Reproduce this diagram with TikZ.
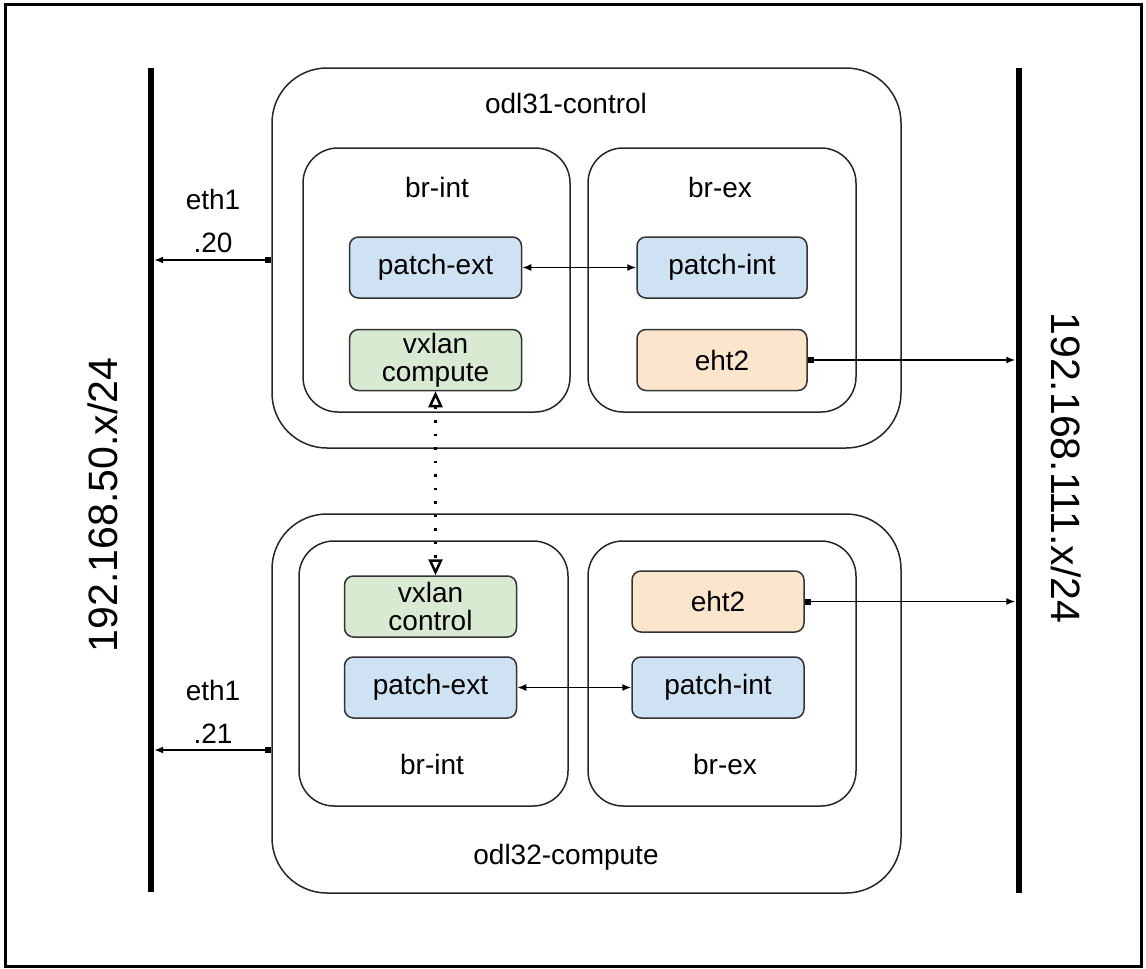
\documentclass[tikz,border=0pt]{standalone}
\usepackage{fontspec}
\setmainfont{Liberation Sans}
\usetikzlibrary{arrows.meta}

\definecolor{portblue}{HTML}{CFE2F3}
\definecolor{portgreen}{HTML}{D9EAD3}
\definecolor{portorange}{HTML}{FCE5CD}

\begin{document}
\begin{tikzpicture}[x=1pt, y=-1pt,
  host/.style={draw=black!85, line width=1.5pt, rounded corners=55pt, minimum width=629pt, minimum height=380pt},
  bridge/.style={draw=black!85, line width=1.5pt, rounded corners=35pt, minimum width=267pt, minimum height=264pt},
  port/.style={draw=black!80, line width=1.5pt, rounded corners=9pt, minimum width=172pt, minimum height=61pt, inner sep=0pt, align=center, font=\fontsize{28}{28}\selectfont},
  bus/.style={fill=black, inner sep=0pt, minimum width=6pt},
  lbl/.style={font=\fontsize{28}{43}\selectfont, align=center},
  buslbl/.style={font=\fontsize{41}{45}\selectfont},
  link/.style={line width=1.5pt, {Square[length=6pt,width=6pt]}-{Latex[length=9pt,width=7pt]}},
  patch/.style={line width=1.5pt, {Latex[length=9pt,width=7pt]}-{Latex[length=9pt,width=7pt]}},
  tunnel/.style={line width=3pt, dash pattern=on 2.5pt off 11pt, {Triangle[open,length=16pt,width=14pt,line width=2.5pt]}-{Triangle[open,length=16pt,width=14pt,line width=2.5pt]}}]

  \useasboundingbox (0,0) rectangle (1146,969);
  \draw[line width=3pt] (5,4) rectangle (1141,966);

  % networks
  \node[bus, minimum height=824pt] (lbus) at (151,480) {};
  \node[bus, minimum height=825pt] (rbus) at (1018.5,480.5) {};
  \node[buslbl, rotate=90] (lnet) at (103,505) {192.168.50.x/24};
  \node[buslbl, rotate=-90] (rnet) at (1066,468) {192.168.111.x/24};

  % odl31-control
  \node[host] (ctl) at (586.5,258) {};
  \node[lbl] (ctltitle) at (566,103) {odl31-control};
  \node[bridge] (ctlint) at (436.5,280) {};
  \node[bridge, minimum width=268pt] (ctlex) at (722,280) {};
  \node[lbl] (ctlintlbl) at (437,187) {br-int};
  \node[lbl] (ctlexlbl) at (720,187) {br-ex};
  \node[port, fill=portblue] (pext1) at (435.5,267.5) {patch-ext};
  \node[port, fill=portgreen] (vx1) at (435.5,360) {vxlan\\compute};
  \node[port, fill=portblue, minimum width=170pt] (pint1) at (722,267.5) {patch-int};
  \node[port, fill=portorange, minimum width=170pt] (eht1) at (722,360) {eht2};

  % odl32-compute
  \node[host, minimum height=379pt] (cmp) at (586.5,703.5) {};
  \node[lbl] (cmptitle) at (566,857) {odl32-compute};
  \node[bridge, minimum width=269pt, minimum height=265pt] (cmpint) at (433.5,673.5) {};
  \node[bridge, minimum width=268pt, minimum height=265pt] (cmpex) at (722,673.5) {};
  \node[lbl] (cmpintlbl) at (432,764) {br-int};
  \node[lbl] (cmpexlbl) at (725,764) {br-ex};
  \node[port, fill=portgreen] (vx2) at (430.5,606.5) {vxlan\\control};
  \node[port, fill=portblue] (pext2) at (430.5,687.5) {patch-ext};
  \node[port, fill=portorange] (eht2) at (718,601.5) {eht2};
  \node[port, fill=portblue] (pint2) at (718,687.5) {patch-int};

  % eth1 links
  \draw[link] (ctl.west |- 0,260) -- (lbus.east |- 0,260);
  \node[lbl] (eth20) at (213,221) {eth1\\.20};
  \draw[link] (cmp.west |- 0,750) -- (lbus.east |- 0,750);
  \node[lbl] (eth21) at (213,712) {eth1\\.21};

  % eht2 links
  \draw[link] (eht1.east) -- (eht1.east -| rbus.west);
  \draw[link] (eht2.east) -- (eht2.east -| rbus.west);

  % patch ports and tunnel
  \draw[patch] (pext1.east) -- (pint1.west);
  \draw[patch] (pext2.east) -- (pint2.west);
  \draw[tunnel] (vx1.south) -- (vx1.south |- vx2.north);
\end{tikzpicture}
\end{document}
